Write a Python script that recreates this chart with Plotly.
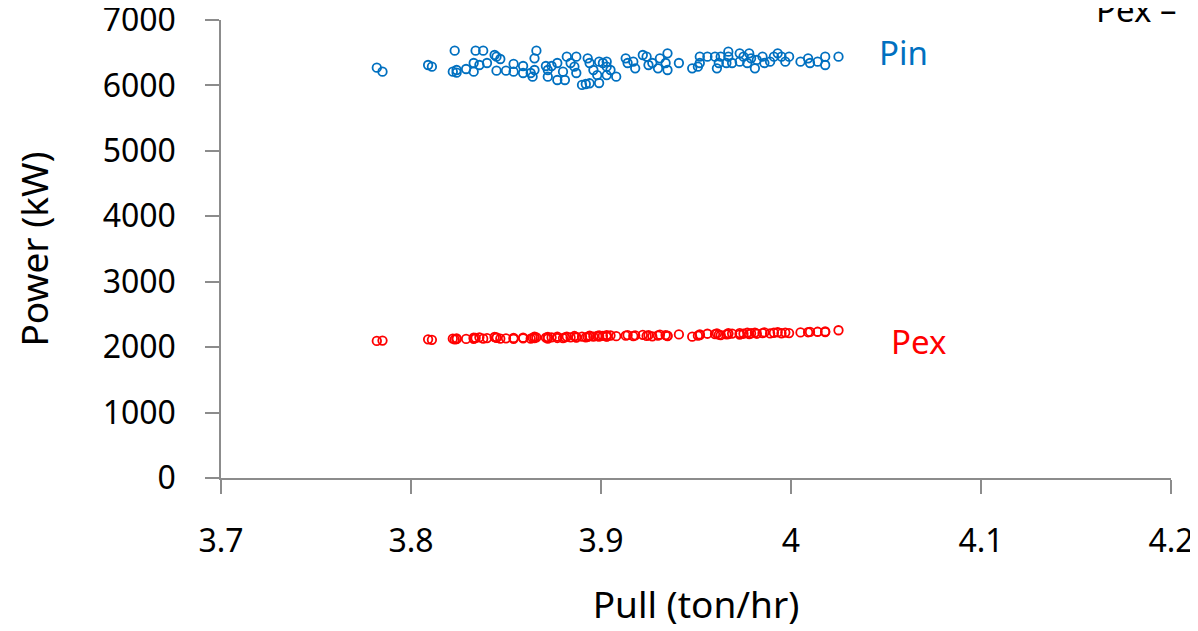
import plotly.graph_objects as go

pull = [3.782, 3.785, 3.809, 3.811, 3.823, 3.822, 3.824, 3.824, 3.834, 3.838,
        3.829, 3.833, 3.833, 3.836, 3.840, 3.844, 3.845, 3.847, 3.845, 3.850,
        3.854, 3.854, 3.859, 3.859, 3.863, 3.864, 3.865, 3.866, 3.865, 3.871,
        3.872, 3.872, 3.874, 3.877, 3.877, 3.881, 3.880, 3.882, 3.884, 3.887,
        3.886, 3.887, 3.890, 3.892, 3.894, 3.893, 3.894, 3.896, 3.898, 3.899,
        3.903, 3.903, 3.901, 3.903, 3.905, 3.908, 3.899, 3.913, 3.914, 3.917,
        3.918, 3.922, 3.924, 3.925, 3.927, 3.930, 3.931, 3.935, 3.934, 3.935,
        3.941, 3.948, 3.951, 3.952, 3.956, 3.952, 3.960, 3.962, 3.961, 3.963,
        3.967, 3.967, 3.966, 3.969, 3.973, 3.973, 3.975, 3.977, 3.978, 3.979,
        3.981, 3.982, 3.985, 3.986, 3.989, 3.991, 3.993, 3.995, 3.997, 3.999,
        4.005, 4.009, 4.010, 4.014, 4.018, 4.018, 4.025]

pin = [6271, 6210, 6312, 6286, 6531, 6210, 6195, 6236, 6531, 6531,
       6251, 6343, 6210, 6312, 6343, 6465, 6439, 6404, 6225, 6225,
       6210, 6328, 6297, 6190, 6190, 6134, 6236, 6531, 6415, 6297,
       6236, 6134, 6297, 6343, 6083, 6083, 6210, 6439, 6343, 6439,
       6286, 6190, 6007, 6022, 6033, 6415, 6343, 6236, 6159, 6363,
       6286, 6159, 6343, 6363, 6236, 6134, 6037, 6415, 6343, 6363,
       6262, 6465, 6439, 6312, 6343, 6262, 6415, 6491, 6343, 6236,
       6343, 6262, 6286, 6439, 6439, 6343, 6439, 6343, 6262, 6439,
       6516, 6439, 6343, 6343, 6491, 6363, 6439, 6343, 6491, 6415,
       6262, 6389, 6439, 6343, 6363, 6439, 6491, 6439, 6363, 6439,
       6363, 6415, 6343, 6363, 6439, 6312, 6439]

pex = [2095, 2100, 2120, 2112, 2118, 2130, 2122, 2135, 2140, 2130,
       2125, 2145, 2128, 2150, 2138, 2155, 2142, 2130, 2150, 2135,
       2140, 2128, 2145, 2135, 2130, 2142, 2160, 2150, 2138, 2145,
       2130, 2155, 2148, 2140, 2160, 2150, 2138, 2162, 2148, 2155,
       2170, 2145, 2160, 2150, 2168, 2158, 2175, 2162, 2170, 2180,
       2165, 2185, 2172, 2160, 2178, 2168, 2160, 2175, 2185, 2170,
       2180, 2188, 2172, 2182, 2165, 2178, 2190, 2175, 2185, 2168,
       2195, 2160, 2175, 2195, 2205, 2185, 2200, 2190, 2210, 2185,
       2200, 2215, 2195, 2208, 2192, 2215, 2205, 2220, 2198, 2212,
       2222, 2205, 2215, 2225, 2210, 2220, 2228, 2212, 2222, 2215,
       2225, 2228, 2232, 2235, 2240, 2230, 2258]

x_ticks = [3.7, 3.8, 3.9, 4.0, 4.1, 4.2]
x_tick_text = ["3.7", "3.8", "3.9", "4", "4.1", "4.2"]
y_ticks = [0, 1000, 2000, 3000, 4000, 5000, 6000, 7000]

FONT = "Noto Sans"
BLUE = "#0070C0"
RED = "#FF0000"
AXIS = "#8c8c8c"

fig = go.Figure()
fig.add_trace(go.Scatter(x=pull, y=pin, mode="markers", name="Pin", cliponaxis=False,
                         marker=dict(symbol="circle-open", size=8.5, color=BLUE,
                                     line=dict(width=1.8, color=BLUE))))
fig.add_trace(go.Scatter(x=pull, y=pex, mode="markers", name="Pex", cliponaxis=False,
                         marker=dict(symbol="circle-open", size=8.5, color=RED,
                                     line=dict(width=1.8, color=RED))))

fig.update_layout(
    width=1198, height=631,
    margin=dict(l=213, r=35, t=12, b=161, autoexpand=False),
    plot_bgcolor="white", paper_bgcolor="white",
    showlegend=False,
    font=dict(family=FONT, size=32, color="black"),
    xaxis=dict(range=[3.7, 4.2], tickvals=x_ticks, ticktext=x_tick_text,
               automargin=False, ticklabeloverflow="allow",
               showgrid=False, zeroline=False, showline=True,
               linecolor=AXIS, linewidth=1.5, ticks="outside", ticklen=14,
               tickcolor=AXIS, tickwidth=1.5, ticklabelstandoff=20,
               tickfont=dict(size=32),
               title=dict(text="Pull (ton/hr)", font=dict(size=37), standoff=32)),
    yaxis=dict(range=[0, 7000], tickvals=y_ticks,
               automargin=False, ticklabeloverflow="allow",
               showgrid=False, zeroline=False, showline=True,
               linecolor=AXIS, linewidth=1.5, ticks="outside", ticklen=14,
               tickcolor=AXIS, tickwidth=1.5, ticklabelstandoff=23,
               tickfont=dict(size=32),
               title=dict(text="Power (kW)", font=dict(size=37), standoff=50)),
    annotations=[
        dict(x=4.059, y=6496, xref="x", yref="y", text="Pin", showarrow=False,
             xanchor="center", yanchor="middle",
             font=dict(size=33, color=BLUE)),
        dict(x=4.067, y=2079, xref="x", yref="y", text="Pex", showarrow=False,
             xanchor="center", yanchor="middle",
             font=dict(size=33, color=RED)),
        dict(x=0.963, y=1.024, xref="paper", yref="paper", text="Pex –",
             xanchor="center", yanchor="middle",
             showarrow=False, font=dict(size=33, color="black")),
    ],
)

fig.write_html("out.html")
